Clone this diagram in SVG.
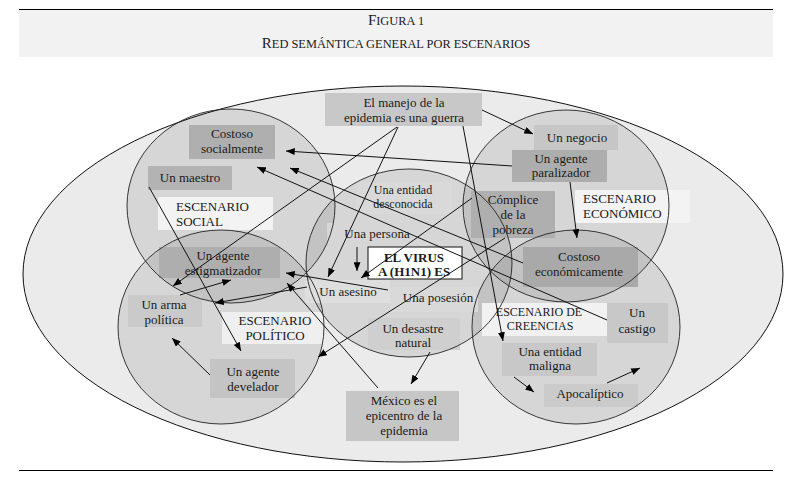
<svg xmlns="http://www.w3.org/2000/svg" width="791" height="486" viewBox="0 0 791 486">
<style>
text{font-family:"Liberation Serif","Times New Roman",serif;font-size:13px;fill:#1a1a1a}
.c{text-anchor:middle}
.b{font-weight:bold}
.t{font-size:12px}
.sc{fill:#000;fill-opacity:0.085;stroke:none}
.so{fill:none;stroke:#222;stroke-width:0.9}
.k1{fill:#afafaf}.k2{fill:#c8c8c8}.k3{fill:#d9d9d9}.kw{fill:#f3f3f3}
.con line{stroke:#111;stroke-width:1;marker-end:url(#ah)}
</style>
<defs>
<marker id="ah" viewBox="0 0 10 8" refX="10" refY="4" markerWidth="9" markerHeight="7" markerUnits="userSpaceOnUse" orient="auto"><path d="M0,0 L10,4 L0,8 z" fill="#000"/></marker>
</defs>
<rect x="0" y="0" width="791" height="486" fill="#fff"/>
<g id="header">
<rect x="19" y="10" width="754" height="47" fill="#f2f2f2"/>
<line x1="19" y1="9.5" x2="773" y2="9.5" stroke="#000" stroke-width="1.2"/>
<text class="c" x="396" y="25"><tspan font-size="15">F</tspan><tspan font-size="12.4">IGURA 1</tspan></text>
<text class="c" x="396" y="48"><tspan font-size="15">R</tspan><tspan font-size="12.4">ED SEMÁNTICA GENERAL POR ESCENARIOS</tspan></text>
</g>
<line x1="19" y1="470.5" x2="773" y2="470.5" stroke="#000" stroke-width="1"/>
<ellipse id="red" cx="403" cy="274" rx="380" ry="188" fill="#ebebeb" stroke="#111" stroke-width="1"/>
<g id="scenario-fills">
<ellipse class="sc" cx="231" cy="206" rx="104" ry="97"/>
<ellipse class="sc" cx="566" cy="206" rx="103" ry="96"/>
<ellipse class="sc" cx="409" cy="263" rx="103" ry="94"/>
<ellipse class="sc" cx="221" cy="327" rx="103" ry="97"/>
<ellipse class="sc" cx="576" cy="327" rx="104" ry="97"/>
</g>
<g id="n-manejo"><rect class="k2" x="325" y="93" width="157" height="33"/><text class="c" x="404" y="107">El manejo de la</text><text class="c" x="404" y="122">epidemia es una guerra</text></g>
<g id="n-costoso-social"><rect class="k1" x="189" y="125" width="86" height="34"/><text class="c" x="232" y="138">Costoso</text><text class="c" x="232" y="153">socialmente</text></g>
<g id="n-maestro"><rect fill="#b3b3b3" x="148" y="166" width="84" height="24"/><text class="c" x="190" y="182">Un maestro</text></g>
<g id="esc-social"><rect class="kw" x="158" y="197" width="115" height="33"/><text x="176" y="211">ESCENARIO</text><text x="176" y="226">SOCIAL</text></g>
<g id="n-negocio"><rect fill="#c6c6c6" x="534" y="125" width="84" height="25"/><text class="c" x="577" y="142">Un negocio</text></g>
<g id="n-paralizador"><rect fill="#adadad" x="512" y="150" width="95" height="32"/><text class="c" x="561" y="163">Un agente</text><text class="c" x="561" y="177">paralizador</text></g>
<g id="esc-economico"><rect class="kw" x="575" y="190" width="115" height="33"/><text x="583" y="203">ESCENARIO</text><text x="583" y="218">ECONÓMICO</text></g>
<g id="n-complice"><rect class="k1" x="471" y="191" width="84" height="47"/><text class="c" x="513" y="204">Cómplice</text><text class="c" x="513" y="219">de la</text><text class="c" x="513" y="234">pobreza</text></g>
<g id="n-desconocida"><rect class="k3" x="356" y="182" width="96" height="32"/><text class="c t" x="403" y="194">Una entidad</text><text class="c t" x="403" y="207.5">desconocida</text></g>
<g id="n-persona"><rect fill="#d6d6d6" x="327" y="223" width="100" height="24"/><text class="c" x="377" y="238">Una persona</text></g>
<g id="n-asesino"><rect fill="#dedede" x="305" y="280" width="85" height="23"/><text class="c" x="348" y="296">Un asesino</text></g>
<g id="n-posesion"><rect class="k3" x="390" y="287" width="88" height="25"/><text class="c" x="438" y="302">Una posesión</text></g>
<g id="n-virus"><rect x="368" y="247" width="94" height="32" fill="#fff" stroke="#111" stroke-width="1"/><text class="c b" x="414" y="262">EL VIRUS</text><text class="c b" x="414" y="276">A (H1N1) ES</text></g>
<g id="n-desastre"><rect fill="#cfcfcf" x="368" y="318" width="92" height="32"/><text class="c" x="413" y="333">Un desastre</text><text class="c" x="413" y="347">natural</text></g>
<g id="n-mexico"><rect fill="#c6c6c6" x="346" y="391" width="113" height="50"/><text class="c" x="404" y="405">México es el</text><text class="c" x="404" y="420">epicentro de la</text><text class="c" x="404" y="435">epidemia</text></g>
<g id="n-estigmatizador"><rect fill="#aeaeae" x="159" y="247" width="121" height="31"/><text class="c" x="223" y="260">Un agente</text><text class="c" x="223" y="275">estigmatizador</text></g>
<g id="n-arma"><rect fill="#cacaca" x="128" y="295" width="74" height="32"/><text class="c" x="164" y="309">Un arma</text><text class="c" x="164" y="324">política</text></g>
<g id="esc-politico"><rect fill="#efefef" x="222" y="312" width="102" height="32"/><text class="c" x="275" y="325">ESCENARIO</text><text class="c" x="275" y="340">POLÍTICO</text></g>
<g id="n-develador"><rect fill="#c4c4c4" x="210" y="359" width="85" height="39"/><text class="c" x="253" y="376">Un agente</text><text class="c" x="253" y="391">develador</text></g>
<g id="n-costoso-econ"><rect fill="#a9a9a9" x="523" y="247" width="115" height="40"/><text class="c" x="579" y="261">Costoso</text><text class="c" x="579" y="276">económicamente</text></g>
<g id="esc-creencias"><rect fill="#f1f1f1" x="482" y="303" width="125" height="33"/><text class="c t" x="539" y="315.5">ESCENARIO DE</text><text class="c t" x="540" y="329.5">CREENCIAS</text></g>
<g id="n-castigo"><rect class="k2" x="607" y="303" width="61" height="40"/><text class="c" x="637" y="317">Un</text><text class="c" x="637" y="333">castigo</text></g>
<g id="n-maligna"><rect class="k2" x="502" y="343" width="95" height="33"/><text class="c" x="550" y="356">Una entidad</text><text class="c" x="550" y="370">maligna</text></g>
<g id="n-apocaliptico"><rect fill="#cbcbcb" x="544" y="384" width="94" height="23"/><text class="c" x="590" y="398">Apocalíptico</text></g>
<g id="scenario-outlines">
<ellipse class="so" cx="231" cy="206" rx="104" ry="97"/>
<ellipse class="so" cx="566" cy="206" rx="103" ry="96"/>
<ellipse class="so" cx="409" cy="263" rx="103" ry="94"/>
<ellipse class="so" cx="221" cy="327" rx="103" ry="97"/>
<ellipse class="so" cx="576" cy="327" rx="104" ry="97"/>
</g>
<g id="connectors" class="con">
<line x1="482" y1="110" x2="533" y2="134"/>
<line x1="512" y1="166" x2="286" y2="151"/>
<line x1="397" y1="127" x2="173" y2="286"/>
<line x1="398" y1="127" x2="328" y2="277"/>
<line x1="463" y1="126" x2="503" y2="341"/>
<line x1="149" y1="187" x2="241" y2="351"/>
<line x1="472" y1="198" x2="361" y2="278"/>
<line x1="505" y1="238" x2="318" y2="357"/>
<line x1="357" y1="247" x2="357" y2="271"/>
<line x1="307" y1="287" x2="215" y2="303"/>
<line x1="388" y1="290" x2="286" y2="273"/>
<line x1="378" y1="388" x2="287" y2="283"/>
<line x1="180" y1="295" x2="231" y2="280"/>
<line x1="523" y1="263" x2="290" y2="168"/>
<line x1="607" y1="320" x2="257" y2="167"/>
<line x1="570" y1="182" x2="577" y2="238"/>
<line x1="430" y1="352" x2="411" y2="384"/>
<line x1="210" y1="375" x2="172" y2="338"/>
<line x1="514" y1="377" x2="534" y2="392"/>
<line x1="607" y1="383" x2="640" y2="368"/>
</g>
</svg>
